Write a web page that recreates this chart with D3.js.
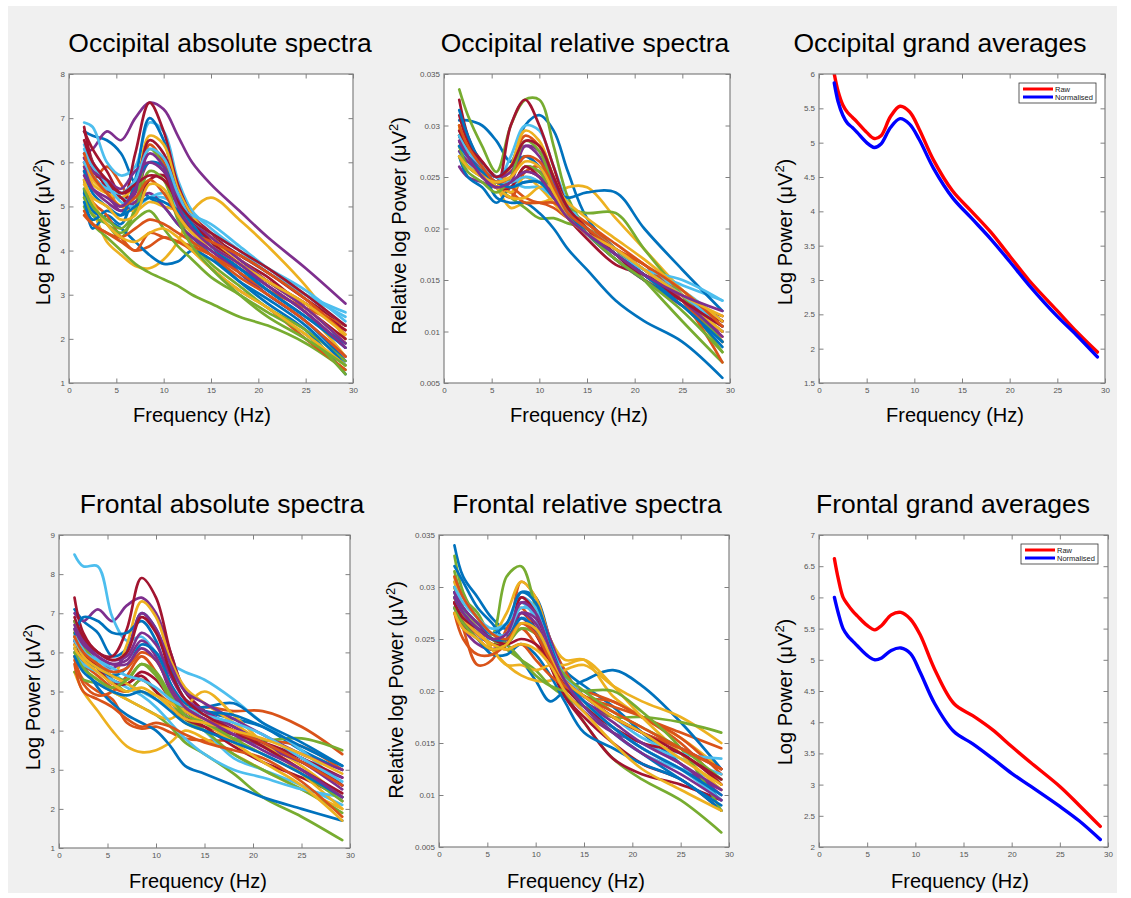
<!DOCTYPE html>
<html><head><meta charset="utf-8">
<script src="https://cdn.jsdelivr.net/npm/d3@7/dist/d3.min.js"></script>
<style>body{margin:0;background:#fff;}svg{display:block;font-family:"Liberation Sans",Arial,sans-serif;}</style>
</head><body>
<svg id="chart" width="1131" height="898"></svg>
<script>
// ---------------- DATA ----------------
const freqGrid = [1.6, 2.5, 4, 5.5, 7, 8.5, 10, 11.5, 13, 15, 18, 21, 25, 29.2];
const grandFreq = [1.6, 2, 2.5, 3, 3.5, 4, 5, 5.8, 6.5, 7.5, 8.5, 9.5, 10.5, 12, 14, 16, 18, 20, 22, 25, 27, 29.2];
const xTicks = [0, 5, 10, 15, 20, 25, 30];
const absOccTicks = [1, 2, 3, 4, 5, 6, 7, 8];
const absFroTicks = [1, 2, 3, 4, 5, 6, 7, 8, 9];
const relTicks = [0.005, 0.01, 0.015, 0.02, 0.025, 0.03, 0.035];
const grandOccTicks = [1.5, 2, 2.5, 3, 3.5, 4, 4.5, 5, 5.5, 6];
const grandFroTicks = [2, 2.5, 3, 3.5, 4, 4.5, 5, 5.5, 6, 6.5, 7];
const lineColors = ["#0072BD", "#D95319", "#EDB120", "#7E2F8E", "#77AC30", "#4DBEEE", "#A2142F"];
const titles = ["Occipital absolute spectra", "Occipital relative spectra", "Occipital grand averages",
                "Frontal absolute spectra", "Frontal relative spectra", "Frontal grand averages"];
const legendLabels = ["Raw", "Normalised"];

const occAbs = [
 [6.7,6.6,6.5,6.2,5.5,5.2,5.0,4.6,4.3,3.9,3.3,2.8,2.2,1.2],
 [5.8,5.6,5.9,5.5,5.0,6.4,6.0,5.2,4.6,4.2,3.7,3.3,2.8,2.2],
 [5.2,4.9,4.2,3.9,3.65,3.6,3.8,4.2,4.9,5.2,4.7,4.1,3.2,2.0],
 [6.2,6.3,6.7,6.5,7.0,7.35,7.2,6.6,6.0,5.5,4.9,4.3,3.6,2.8],
 [5.0,4.6,4.3,4.0,3.7,3.5,3.35,3.2,3.0,2.8,2.5,2.3,1.9,1.3],
 [6.9,6.8,6.0,5.7,5.9,6.9,6.7,5.6,4.9,4.5,4.0,3.5,3.0,2.5],
 [6.8,6.0,5.4,5.0,6.2,7.35,6.7,5.5,4.8,4.4,3.8,3.4,2.7,2.0],
 [5.4,4.5,4.8,4.6,5.6,7.0,6.5,5.3,4.6,4.2,3.5,3.0,2.4,1.5],
 [4.9,4.6,4.4,4.2,4.0,4.1,4.3,4.2,4.0,3.6,3.1,2.7,2.0,1.3],
 [6.0,5.5,5.3,5.2,5.5,6.6,6.4,5.4,4.8,4.3,3.7,3.2,2.6,1.6],
 [6.0,5.7,5.3,4.9,5.3,6.0,5.8,4.9,4.4,4.0,3.5,3.0,2.4,1.6],
 [5.6,5.0,4.6,4.3,5.0,6.3,5.9,4.8,4.2,3.7,3.2,2.7,2.2,1.5],
 [6.3,5.9,5.6,5.2,5.1,5.2,5.2,5.0,4.6,4.3,3.9,3.5,3.0,2.6],
 [6.1,5.8,5.5,5.2,5.0,5.6,5.7,5.0,4.5,4.3,3.9,3.5,2.9,2.3],
 [5.3,4.9,4.7,4.5,4.2,3.9,3.7,3.75,4.0,3.8,3.3,2.9,2.3,1.4],
 [5.6,5.1,4.8,4.3,4.0,4.4,4.3,4.2,4.1,3.9,3.5,3.1,2.7,2.3],
 [5.9,5.6,5.3,5.0,4.9,5.1,5.0,4.9,4.6,4.3,3.8,3.3,2.7,1.9],
 [5.9,5.4,5.1,4.9,5.1,5.3,5.0,4.6,4.3,4.0,3.6,3.2,2.6,1.8],
 [5.2,4.8,4.6,4.4,4.7,4.9,4.5,4.1,3.8,3.4,3.0,2.6,2.1,1.2],
 [6.4,6.0,5.5,5.1,5.0,5.2,5.3,5.0,4.8,4.6,4.1,3.6,3.0,2.3],
 [6.7,6.3,5.8,5.3,5.5,6.5,6.2,5.3,4.7,4.2,3.7,3.3,2.8,2.2],
 [5.1,4.7,4.9,4.8,5.5,6.0,5.9,5.1,4.6,4.1,3.6,3.1,2.5,1.9],
 [4.8,4.6,4.4,4.3,4.5,4.7,4.6,4.4,4.2,3.9,3.4,3.0,2.4,1.6],
 [5.6,5.1,4.6,4.3,4.2,4.4,4.5,4.3,4.0,3.6,3.1,2.7,2.1,1.4],
 [6.1,5.8,5.6,5.4,5.8,6.0,5.8,5.2,4.7,4.3,3.8,3.3,2.7,1.9],
 [5.4,5.0,4.7,4.5,4.9,5.8,5.6,4.7,4.1,3.6,3.0,2.5,2.0,1.4],
 [6.0,5.7,5.4,5.3,5.6,6.3,6.1,5.3,4.7,4.4,4.0,3.6,3.1,2.4],
 [6.5,6.0,5.6,5.3,5.5,5.7,5.6,5.1,4.7,4.4,4.0,3.6,3.0,2.3],
 [5.8,5.3,5.0,4.8,5.0,5.2,5.1,4.9,4.5,4.1,3.6,3.1,2.5,1.8],
 [6.2,5.7,5.3,5.0,5.2,5.6,5.3,4.8,4.4,4.2,3.9,3.5,2.9,2.1],
 [5.5,5.2,5.0,4.7,4.8,5.5,5.4,4.8,4.4,4.1,3.7,3.3,2.8,2.1],
 [5.7,5.4,5.2,5.0,5.4,6.2,5.9,5.0,4.5,4.1,3.7,3.2,2.6,1.8]
];

const occRel = [
 [.0305,.0305,.030,.0285,.0265,.030,.031,.0295,.0255,.021,.018,.0155,.013,.010],
 [.029,.027,.025,.024,.023,.0255,.026,.024,.022,.0205,.0185,.0165,.0135,.009],
 [.028,.0265,.0255,.024,.022,.0225,.0225,.023,.024,.024,.021,.018,.014,.0105],
 [.026,.025,.0245,.024,.0245,.028,.027,.024,.0215,.0195,.0175,.0155,.0135,.011],
 [.0335,.031,.028,.0255,.030,.0325,.0325,.028,.023,.020,.018,.016,.013,.008],
 [.028,.0265,.025,.0245,.027,.030,.0295,.026,.0225,.020,.0175,.016,.0145,.013],
 [.0325,.029,.026,.024,.030,.0325,.030,.026,.022,.0195,.017,.015,.013,.0115],
 [.027,.025,.024,.0225,.024,.0245,.0245,.0235,.023,.0235,.0235,.020,.016,.012],
 [.030,.028,.026,.0245,.026,.029,.028,.025,.022,.020,.0175,.0155,.013,.0095],
 [.027,.026,.025,.024,.026,.0295,.0285,.025,.022,.0195,.017,.015,.013,.010],
 [.029,.028,.026,.0245,.025,.027,.026,.0235,.0215,.020,.0175,.015,.0125,.010],
 [.029,.028,.026,.024,.023,.022,.021,.021,.0205,.020,.018,.015,.011,.007],
 [.0275,.026,.025,.024,.024,.025,.0245,.023,.0215,.020,.018,.016,.014,.011],
 [.031,.0285,.0265,.025,.0245,.0255,.025,.023,.021,.0195,.0175,.015,.013,.011],
 [.0315,.029,.026,.023,.0225,.0225,.0215,.020,.018,.016,.013,.011,.009,.0055],
 [.028,.027,.025,.024,.0235,.0225,.0225,.022,.021,.020,.018,.0165,.013,.009],
 [.030,.027,.025,.0245,.0235,.025,.024,.0225,.021,.0195,.0175,.0155,.013,.010],
 [.0275,.0265,.0255,.025,.024,.026,.0255,.0235,.021,.0195,.0175,.0155,.013,.0105],
 [.028,.026,.025,.024,.024,.026,.0255,.023,.022,.0215,.0215,.018,.0135,.009],
 [.028,.027,.0255,.0245,.0245,.024,.024,.023,.0215,.0195,.0175,.016,.015,.013],
 [.0285,.027,.0255,.024,.024,.026,.025,.023,.021,.019,.0165,.0155,.0135,.011],
 [.029,.0275,.026,.025,.026,.027,.026,.024,.022,.0195,.017,.015,.0125,.0085],
 [.0295,.028,.0255,.024,.024,.023,.0225,.0225,.0215,.0205,.018,.016,.013,.007],
 [.030,.027,.0255,.024,.023,.023,.024,.024,.0225,.021,.019,.017,.014,.011],
 [.0285,.027,.026,.025,.0255,.028,.0275,.0245,.0215,.0195,.0175,.0155,.013,.0095],
 [.027,.0255,.0245,.0235,.025,.0285,.0275,.024,.0215,.0195,.017,.015,.012,.008],
 [.029,.0275,.026,.025,.0245,.025,.0245,.023,.0215,.020,.018,.016,.0135,.0105],
 [.0295,.028,.0265,.025,.026,.0285,.028,.025,.022,.020,.0175,.0155,.013,.0105],
 [.028,.027,.0255,.0245,.024,.0245,.0245,.023,.0215,.0195,.0175,.0155,.0125,.009],
 [.030,.028,.026,.0245,.025,.027,.0265,.024,.0215,.020,.018,.0165,.014,.0105],
 [.027,.026,.025,.0245,.025,.0265,.026,.0235,.021,.0195,.018,.016,.0135,.0115],
 [.0285,.027,.025,.024,.0245,.0255,.025,.023,.021,.0195,.0175,.0155,.0135,.012]
];

const froAbs = [
 [7.1,6.8,6.5,5.9,6.1,7.0,6.6,5.6,4.8,4.5,4.3,4.1,3.5,3.0],
 [5.8,5.3,5.0,4.8,4.2,4.05,4.1,3.95,3.8,3.75,3.75,3.75,3.6,3.0],
 [5.5,5.0,4.5,4.0,3.6,3.45,3.5,3.7,4.0,3.8,3.4,3.0,2.5,2.0],
 [7.0,6.8,7.1,6.8,7.2,7.4,7.0,6.0,5.0,4.5,4.0,3.6,3.2,2.6],
 [5.5,5.3,5.2,5.0,4.8,4.6,4.4,4.1,3.7,3.4,2.9,2.3,1.8,1.2],
 [8.5,8.2,8.2,6.9,6.3,6.4,6.0,5.7,5.5,5.3,4.8,4.2,3.5,2.6],
 [7.4,6.5,6.0,5.9,6.6,7.9,7.4,6.0,5.0,4.5,4.1,3.7,3.3,2.8],
 [6.3,5.7,5.1,4.7,4.4,4.2,4.0,3.6,3.1,2.9,2.6,2.3,2.0,1.7],
 [6.0,5.7,5.4,5.1,5.0,5.3,5.0,4.7,4.5,4.6,4.5,4.5,4.1,3.4],
 [6.6,5.9,5.6,5.4,6.2,7.3,6.9,5.8,5.1,4.7,4.2,3.7,3.1,2.3],
 [6.5,6.2,5.8,5.7,5.8,6.3,5.9,5.0,4.5,4.2,3.9,3.6,3.2,2.8],
 [6.5,6.0,5.6,5.3,5.0,5.3,5.0,4.6,4.2,4.0,3.8,3.75,3.8,3.5],
 [6.6,6.1,5.8,5.5,5.2,5.0,4.8,4.6,4.4,4.0,3.3,3.0,2.6,2.1],
 [6.2,5.9,5.7,5.3,5.2,5.5,5.3,4.8,4.4,4.1,3.6,3.2,2.8,2.3],
 [6.4,6.9,6.8,6.5,6.5,6.8,6.3,5.2,4.6,4.6,4.7,4.2,3.7,3.1],
 [5.9,5.2,4.9,5.0,5.4,5.9,5.5,4.8,4.5,4.3,4.0,3.6,3.0,2.2],
 [6.2,5.6,5.3,5.0,4.8,4.6,4.4,4.3,4.6,5.0,4.4,3.7,2.9,2.0],
 [6.8,6.3,5.9,5.6,6.0,7.0,6.6,5.7,5.0,4.7,4.3,3.9,3.4,3.0],
 [6.8,6.2,5.7,5.4,5.3,5.7,5.4,4.8,4.3,4.0,3.4,3.0,2.5,1.9],
 [6.0,5.7,5.5,5.3,5.1,4.9,4.6,4.2,3.8,3.4,3.0,2.8,2.5,2.3],
 [6.3,6.0,5.6,5.2,5.2,5.4,5.0,4.6,4.3,4.1,3.9,3.7,3.3,2.6],
 [6.1,5.8,5.6,5.4,5.6,6.2,6.0,5.2,4.7,4.5,4.4,4.1,3.6,3.1],
 [5.7,5.0,4.8,4.6,4.3,4.1,4.2,4.1,3.9,3.7,3.5,3.3,2.7,1.8],
 [6.4,5.9,5.6,5.4,5.2,5.0,4.9,4.7,4.5,4.2,3.7,3.2,2.6,1.7],
 [6.7,6.3,6.0,5.8,5.9,6.5,6.2,5.4,4.8,4.5,4.1,3.7,3.2,2.5],
 [6.0,5.6,5.3,5.1,5.3,5.7,5.5,4.9,4.4,4.2,3.8,3.4,2.9,2.2],
 [6.3,6.0,5.8,5.6,5.4,5.3,5.1,4.8,4.6,4.4,4.2,3.9,3.3,2.7],
 [6.9,6.4,6.0,5.8,6.0,6.9,6.5,5.5,4.8,4.4,4.0,3.6,3.0,2.4],
 [5.9,5.5,5.2,5.0,4.9,5.0,4.8,4.5,4.2,4.0,3.7,3.4,2.9,2.3],
 [6.4,6.0,5.7,5.5,5.6,6.0,5.8,5.1,4.6,4.3,4.0,3.7,3.2,2.6],
 [6.1,5.8,5.5,5.2,5.0,5.1,4.9,4.6,4.3,4.2,4.0,3.8,3.4,2.9],
 [6.6,6.2,5.9,5.7,5.7,6.1,5.8,5.1,4.6,4.3,3.9,3.5,3.0,2.3]
];

const froRel = [
 [.034,.031,.029,.027,.026,.0295,.029,.025,.022,.0205,.0185,.016,.013,.0095],
 [.029,.027,.025,.024,.025,.0305,.029,.025,.022,.0195,.019,.0175,.016,.0145],
 [.031,.028,.0265,.0255,.0275,.0305,.029,.025,.023,.023,.0195,.0175,.0155,.0125],
 [.0275,.026,.0245,.024,.025,.0285,.028,.025,.0215,.019,.0165,.0145,.0125,.0105],
 [.033,.0295,.027,.0255,.031,.032,.028,.0235,.020,.017,.0135,.0115,.0095,.0064],
 [.028,.0265,.025,.025,.025,.027,.0265,.0235,.021,.019,.016,.014,.0125,.0115],
 [.0285,.0275,.026,.025,.0245,.0275,.026,.0225,.0195,.017,.0135,.012,.011,.0095],
 [.032,.0305,.028,.0265,.0245,.023,.021,.019,.020,.021,.022,.0205,.017,.0125],
 [.0285,.026,.0225,.023,.026,.028,.0255,.023,.021,.0195,.0185,.0175,.0155,.012],
 [.029,.0275,.026,.024,.0225,.0215,.021,.021,.022,.0225,.0205,.019,.0175,.015],
 [.0295,.027,.0255,.0245,.025,.027,.0255,.0225,.020,.018,.016,.015,.013,.010],
 [.0315,.029,.0275,.025,.024,.023,.022,.0205,.0195,.0185,.0175,.0175,.017,.016],
 [.0305,.029,.027,.026,.0265,.0285,.027,.024,.021,.019,.0165,.015,.0135,.012],
 [.0285,.027,.0255,.0245,.0245,.0265,.0255,.0225,.0195,.0175,.015,.013,.0115,.0085],
 [.028,.0265,.025,.0235,.0235,.0245,.0235,.0215,.019,.016,.0145,.013,.0115,.0085],
 [.030,.0275,.0255,.0245,.024,.0245,.023,.0215,.0205,.020,.019,.0175,.015,.011],
 [.0305,.028,.026,.024,.0225,.0225,.022,.0225,.0225,.023,.0205,.0175,.014,.0105],
 [.028,.027,.026,.025,.0255,.0275,.027,.024,.021,.019,.0175,.016,.0145,.0125],
 [.030,.028,.0265,.0255,.0245,.023,.0215,.0205,.020,.020,.020,.018,.0145,.0085],
 [.029,.0275,.026,.0255,.0265,.029,.028,.0245,.0215,.0195,.0175,.0155,.014,.0135],
 [.0285,.0265,.025,.024,.0245,.029,.0275,.024,.0205,.0185,.0165,.015,.014,.011],
 [.0295,.028,.0265,.0255,.0265,.0295,.0285,.0245,.021,.0185,.016,.014,.0115,.009],
 [.0275,.025,.0235,.0235,.0245,.026,.0245,.0225,.0205,.0195,.0175,.016,.0145,.0125],
 [.029,.027,.0255,.0245,.024,.0245,.024,.0225,.020,.018,.015,.0125,.0105,.0085],
 [.0295,.028,.0265,.025,.0255,.0275,.0265,.0235,.021,.019,.017,.015,.013,.0105],
 [.028,.0265,.025,.024,.0245,.026,.0255,.0235,.0215,.020,.018,.0165,.0145,.0115],
 [.030,.0285,.027,.0255,.0255,.028,.0275,.024,.021,.019,.0165,.0145,.0125,.0095],
 [.0285,.027,.026,.025,.0245,.025,.0245,.023,.021,.0195,.0175,.016,.014,.0115],
 [.029,.0275,.026,.025,.025,.027,.026,.0235,.021,.019,.0165,.0145,.0125,.010],
 [.031,.029,.027,.0255,.025,.0265,.0255,.023,.021,.0195,.018,.0165,.0145,.0125],
 [.0275,.026,.025,.024,.0245,.0265,.026,.0235,.021,.0195,.0175,.016,.0135,.011],
 [.029,.0275,.026,.025,.0255,.0285,.0275,.024,.021,.0185,.016,.014,.012,.0095]
];

const occGrandRaw  = [6.0,5.75,5.55,5.44,5.37,5.3,5.15,5.06,5.1,5.38,5.53,5.45,5.2,4.75,4.3,4.0,3.7,3.35,3.0,2.55,2.25,1.95];
const occGrandNorm = [5.87,5.6,5.4,5.28,5.22,5.15,5.0,4.93,4.98,5.22,5.35,5.27,5.05,4.63,4.2,3.9,3.6,3.27,2.93,2.47,2.2,1.88];
const froGrandRaw  = [6.62,6.3,6.0,5.88,5.78,5.7,5.55,5.48,5.55,5.72,5.76,5.65,5.4,4.85,4.3,4.1,3.88,3.61,3.35,2.97,2.67,2.33];
const froGrandNorm = [6.0,5.75,5.5,5.38,5.3,5.22,5.07,5.0,5.03,5.15,5.19,5.1,4.8,4.3,3.85,3.65,3.42,3.18,2.97,2.65,2.42,2.12];
const grandColors = ["#FF0000", "#0000FF"];

// ---------------- DRAW ----------------
const svg = d3.select("#chart");
svg.append("rect").attr("x", 8).attr("y", 6).attr("width", 1109).attr("height", 887).attr("fill", "#f0f0f0");

const panels = [
  {box:[69,353,74,383], yDom:[1,8], yT:absOccTicks, series:occAbs, xs:freqGrid, ylab:"Log Power (\u03bcV", ylx:50, yly:232, tx:220, ty:52, xlx:202, xly:422},
  {box:[444,730,74,383], yDom:[0.005,0.035], yT:relTicks, series:occRel, xs:freqGrid, ylab:"Relative log Power (\u03bcV", ylx:406, yly:226, tx:585, ty:52, xlx:579, xly:422},
  {box:[819,1105,74,383], yDom:[1.5,6], yT:grandOccTicks, series:[occGrandRaw, occGrandNorm], xs:grandFreq, grand:true, ylab:"Log Power (\u03bcV", ylx:792, yly:232, tx:940, ty:52, xlx:955, xly:422, leg:[1019,83]},
  {box:[59,350,535,848], yDom:[1,9], yT:absFroTicks, series:froAbs, xs:freqGrid, ylab:"Log Power (\u03bcV", ylx:40, yly:697, tx:222, ty:513, xlx:198, xly:888},
  {box:[439,729,535,847], yDom:[0.005,0.035], yT:relTicks, series:froRel, xs:freqGrid, ylab:"Relative log Power (\u03bcV", ylx:403, yly:690, tx:587, ty:513, xlx:576, xly:888},
  {box:[819,1108,535,847], yDom:[2,7], yT:grandFroTicks, series:[froGrandRaw, froGrandNorm], xs:grandFreq, grand:true, ylab:"Log Power (\u03bcV", ylx:792, yly:692, tx:953, ty:513, xlx:960, xly:888, leg:[1021,544]}
];

const axisCol = "#808080", tickLen = 4.5;

panels.forEach((p, pi) => {
  const [x0, x1, y0, y1] = p.box;
  const x = d3.scaleLinear().domain([0, 30]).range([x0, x1]);
  const y = d3.scaleLinear().domain(p.yDom).range([y1, y0]);
  const g = svg.append("g");
  g.append("rect").attr("x", x0).attr("y", y0).attr("width", x1 - x0).attr("height", y1 - y0).attr("fill", "#fff");

  const clipId = "clip" + pi;
  svg.append("clipPath").attr("id", clipId).append("rect")
    .attr("x", x0).attr("y", y0).attr("width", x1 - x0).attr("height", y1 - y0);

  const line = d3.line().x((d, i) => x(p.xs[i])).y(d => y(d)).curve(d3.curveCatmullRom.alpha(0.5));
  const lg = g.append("g").attr("clip-path", `url(#${clipId})`);
  p.series.forEach((s, i) => {
    lg.append("path").attr("d", line(s)).attr("fill", "none")
      .attr("stroke", p.grand ? grandColors[i] : lineColors[i % 7])
      .attr("stroke-width", p.grand ? 3.4 : 2.7)
      .attr("stroke-linejoin", "round").attr("stroke-linecap", "round");
  });

  // axes (MATLAB style: ticks inward on all four sides)
  const fmt = v => String(+v.toFixed(4));
  const bottom = d3.axisBottom(x).tickValues(xTicks).tickSize(-tickLen).tickPadding(4).tickFormat(fmt);
  const top = d3.axisTop(x).tickValues(xTicks).tickSize(-tickLen).tickFormat("");
  const left = d3.axisLeft(y).tickValues(p.yT).tickSize(-tickLen).tickPadding(4).tickFormat(fmt);
  const right = d3.axisRight(y).tickValues(p.yT).tickSize(-tickLen).tickFormat("");
  [[bottom, `translate(0,${y1})`], [top, `translate(0,${y0})`], [left, `translate(${x0},0)`], [right, `translate(${x1},0)`]]
    .forEach(([ax, tr]) => {
      const a = g.append("g").attr("transform", tr).call(ax);
      a.select(".domain").remove();
      a.selectAll("line").attr("stroke", axisCol);
      a.selectAll("text").attr("fill", "#555").attr("font-size", 8).attr("font-family", '"Liberation Sans",Arial,sans-serif');
    });
  g.append("rect").attr("x", x0).attr("y", y0).attr("width", x1 - x0).attr("height", y1 - y0)
    .attr("fill", "none").attr("stroke", axisCol).attr("stroke-width", 1.2);

  // title
  svg.append("text").attr("x", p.tx).attr("y", p.ty).attr("text-anchor", "middle")
    .attr("font-size", 26.5).attr("fill", "#000").text(titles[pi]);
  // x label
  svg.append("text").attr("x", p.xlx).attr("y", p.xly).attr("text-anchor", "middle")
    .attr("font-size", 20).attr("fill", "#000").text("Frequency (Hz)");
  // y label
  const yl = svg.append("text").attr("transform", `translate(${p.ylx},${p.yly}) rotate(-90)`)
    .attr("text-anchor", "middle").attr("font-size", 20).attr("fill", "#000");
  yl.append("tspan").text(p.ylab);
  yl.append("tspan").attr("font-size", 13).attr("dy", -8).text("2");
  yl.append("tspan").attr("dy", 8).text(")");

  // legend
  if (p.leg) {
    const [lx, ly] = p.leg;
    const lgd = svg.append("g");
    lgd.append("rect").attr("x", lx).attr("y", ly).attr("width", 77).attr("height", 20)
      .attr("fill", "#fff").attr("stroke", "#333").attr("stroke-width", 0.8);
    legendLabels.forEach((t, i) => {
      const yy = ly + 6 + i * 8;
      lgd.append("line").attr("x1", lx + 4).attr("x2", lx + 34).attr("y1", yy).attr("y2", yy)
        .attr("stroke", grandColors[i]).attr("stroke-width", 3);
      lgd.append("text").attr("x", lx + 36).attr("y", yy + 2.5).attr("font-size", 7.5).attr("fill", "#222").text(t);
    });
  }
});
</script>
</body></html>
